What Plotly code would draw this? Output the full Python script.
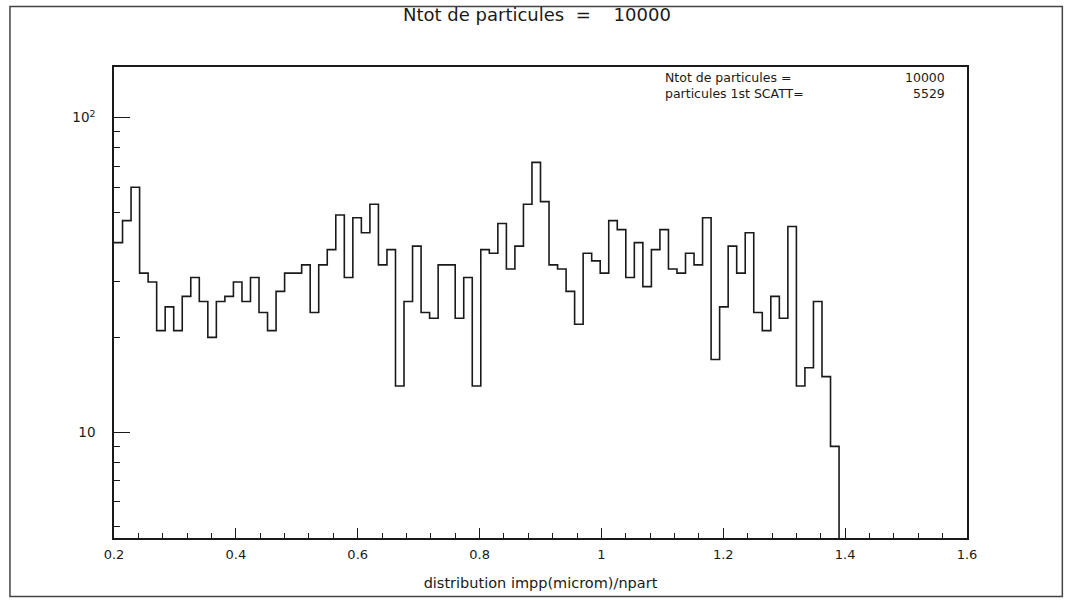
import plotly.graph_objects as go
import numpy as np

# ---- data ----
x_start = 0.2
bin_width = 0.014
counts = [40, 47, 60, 32, 30, 21, 25, 21, 27, 31,
          26, 20, 26, 27, 30, 26, 31, 24, 21, 28,
          32, 32, 34, 24, 34, 38, 49, 31, 48, 43,
          53, 34, 38, 14, 26, 39, 24, 23, 34, 34,
          23, 31, 14, 38, 37, 46, 33, 39, 53, 72,
          54, 34, 33, 28, 22, 37, 35, 32, 47, 44,
          31, 40, 29, 38, 44, 33, 32, 37, 34, 48,
          17, 25, 39, 32, 43, 24, 21, 27, 23, 45,
          14, 16, 26, 15, 9]
x_tick_vals = [0.2, 0.4, 0.6, 0.8, 1.0, 1.2, 1.4, 1.6]
x_tick_text = ["0.2", "0.4", "0.6", "0.8", "1", "1.2", "1.4", "1.6"]
y_tick_vals = [10, 100]
y_tick_text = ["10", "10<sup>2</sup>"]
title_text = "Ntot de particules  =    10000"
x_title = "distribution impp(microm)/npart"
stats_labels = ["Ntot de particules =", "particules 1st SCATT="]
stats_values = ["10000", "5529"]

# ---- geometry ----
W, H = 1070, 602
L, R, T, B = 114, 966.7, 66.7, 538.5
y_log_range = [0.663, 2.1606]

edges = x_start + bin_width * np.arange(len(counts) + 1)
xs = list(edges[:-1]) + [edges[-1], edges[-1]]
ys = list(counts) + [counts[-1], 10 ** y_log_range[0]]

fig = go.Figure()
fig.add_trace(go.Scatter(x=xs, y=ys, mode="lines", line_shape="hv",
                         line=dict(color="#1a1a1a", width=1.6),
                         showlegend=False, hoverinfo="skip"))

minor_y = [v * m for m in (1, 10) for v in range(2, 10)] + [4, 5, 6, 7, 8, 9]
fig.update_layout(
    width=W, height=H, autosize=False,
    margin=dict(l=L, r=W - R, t=T, b=H - B, pad=0),
    paper_bgcolor="white", plot_bgcolor="white",
    font=dict(family="DejaVu Sans", color="#1a1a1a"),
    xaxis=dict(range=[0.2, 1.6], tickvals=x_tick_vals, ticktext=x_tick_text,
               ticks="inside", ticklen=10, tickwidth=1.3, tickcolor="#1a1a1a",
               showline=True, linecolor="#1a1a1a", linewidth=1.6, mirror=True,
               showgrid=False, zeroline=False,
               tickfont=dict(size=13), ticklabelstandoff=4,
               minor=dict(ticks="inside", ticklen=5, dtick=0.04, tick0=0.2,
                          tickcolor="#1a1a1a", showgrid=False),
               title=dict(text=x_title, font=dict(size=14.5), standoff=16)),
    yaxis=dict(type="log", range=y_log_range, tickvals=y_tick_vals, ticktext=y_tick_text,
               ticks="inside", ticklen=16, tickwidth=1.3, tickcolor="#1a1a1a",
               showline=True, linecolor="#1a1a1a", linewidth=1.6, mirror=True,
               showgrid=False, zeroline=False, tickfont=dict(size=13.5),
               ticklabelstandoff=14,
               minor=dict(ticks="inside", ticklen=6, tickvals=minor_y,
                          tickcolor="#1a1a1a", showgrid=False)),
)

def px_to_paper(px, py):
    return (px - L) / (R - L), (B - py) / (B - T)

# title
tx, ty = px_to_paper(537, 14)
fig.add_annotation(x=tx, y=ty, xref="paper", yref="paper", text=title_text,
                   showarrow=False, font=dict(size=18), xanchor="center", yanchor="middle")

# stats box texts
for i, (lab, val) in enumerate(zip(stats_labels, stats_values)):
    lx, ly = px_to_paper(663, 77 + 16 * i)
    vx, _ = px_to_paper(947, 77 + 16 * i)
    fig.add_annotation(x=lx, y=ly, xref="paper", yref="paper", text=lab,
                       showarrow=False, font=dict(size=12.5), xanchor="left", yanchor="middle")
    fig.add_annotation(x=vx, y=ly, xref="paper", yref="paper", text=val,
                       showarrow=False, font=dict(size=12.5), xanchor="right", yanchor="middle")

# outer frame
x0, y0 = px_to_paper(10, 597)
x1, y1 = px_to_paper(1062, 6)
fig.add_shape(type="rect", xref="paper", yref="paper", x0=x0, y0=y0, x1=x1, y1=y1,
              line=dict(color="#444444", width=1.5))

fig.write_html("out.html")
